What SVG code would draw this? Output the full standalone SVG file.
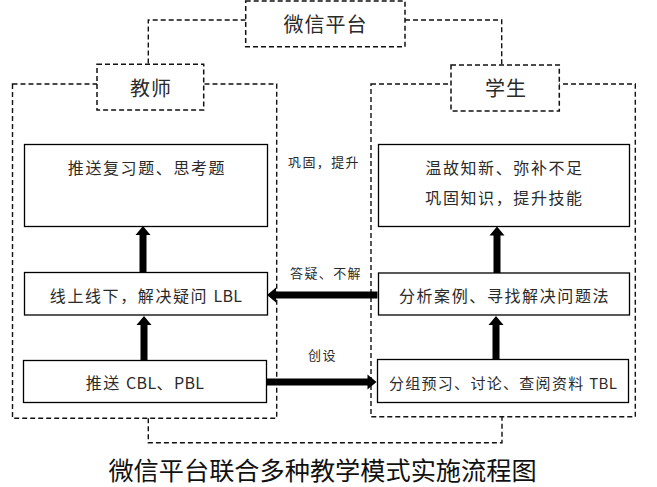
<svg xmlns="http://www.w3.org/2000/svg" width="657" height="487" viewBox="0 0 657 487">
<style>
.bg{fill:#fff}
.dash{fill:none;stroke:#111;stroke-width:1.4;stroke-dasharray:5,3}
.hdr{fill:#fff;stroke:#111;stroke-width:1.5;stroke-dasharray:5,3}
.box{fill:#fff;stroke:#000;stroke-width:1.3}
.arr{fill:#000;stroke:none}
text{font-family:"Noto Sans CJK SC","Liberation Sans",sans-serif;fill:#2a2a2a;text-anchor:middle}
.t{font-size:16px;letter-spacing:1.6px}
.lat{letter-spacing:0.3px}
.h{font-size:20px;letter-spacing:1px}
.lb{font-size:13px;letter-spacing:1.4px;text-anchor:start}
.title{font-size:25.2px;fill:#111}
</style>
<rect class="bg" x="0" y="0" width="657" height="487"/>
<g id="connectors">
<path class="dash" d="M245.7,20 H148.3 V64.3"/>
<path class="dash" d="M405,20 H501.7 V65"/>
<path class="dash" d="M148.3,418.3 V442.7 H502 V416.7"/>
</g>
<g id="teacher-group">
<rect class="dash" x="12.5" y="84" width="264.2" height="334.3"/>
</g>
<g id="student-group">
<rect class="dash" x="371" y="84" width="264.3" height="332.7"/>
</g>
<g id="platform">
<rect class="hdr" x="245.7" y="1" width="159.3" height="45.7"/>
<text class="h" x="325.5" y="32">微信平台</text>
</g>
<g id="teacher">
<rect class="hdr" x="97" y="64.3" width="106.7" height="45.7"/>
<text class="h" x="151" y="96">教师</text>
</g>
<g id="student">
<rect class="hdr" x="451" y="65" width="108.3" height="46"/>
<text class="h" x="506" y="96">学生</text>
</g>
<g id="t1">
<rect class="box" x="24.5" y="144.5" width="243" height="82"/>
<text class="t" x="147" y="174">推送复习题、思考题</text>
</g>
<g id="t2">
<rect class="box" x="24.5" y="272.5" width="243" height="42.5"/>
<text class="t" x="146" y="302">线上线下，解决疑问 <tspan class="lat">LBL</tspan></text>
</g>
<g id="t3">
<rect class="box" x="23.5" y="360.5" width="243" height="42"/>
<text class="t" x="145" y="389">推送 <tspan class="lat">CBL</tspan>、<tspan class="lat">PBL</tspan></text>
</g>
<g id="s1">
<rect class="box" x="378.5" y="144.5" width="251" height="82"/>
<text class="t" x="504.5" y="174">温故知新、弥补不足</text>
<text class="t" x="504.5" y="204">巩固知识，提升技能</text>
</g>
<g id="s2">
<rect class="box" x="378.5" y="273" width="251" height="42"/>
<text class="t" x="504.5" y="302">分析案例、寻找解决问题法</text>
</g>
<g id="s3">
<rect class="box" x="377.5" y="359.5" width="251" height="43"/>
<text class="t" x="503" y="389" style="font-size:15px;letter-spacing:1.3px">分组预习、讨论、查阅资料 <tspan class="lat">TBL</tspan></text>
</g>
<g id="arrows">
<polygon class="arr" points="143,226 150.5,235 146.5,235 146.5,272.5 139.5,272.5 139.5,235 135.5,235"/>
<polygon class="arr" points="144,316 151.5,325 147.5,325 147.5,360.5 140.5,360.5 140.5,325 136.5,325"/>
<polygon class="arr" points="497,226.5 504.5,235.5 500.5,235.5 500.5,273 493.5,273 493.5,235.5 489.5,235.5"/>
<polygon class="arr" points="496,316 503.5,325 499.5,325 499.5,359.5 492.5,359.5 492.5,325 488.5,325"/>
<polygon class="arr" points="267,295 276,287.5 276,291.5 377.5,291.5 377.5,298.5 276,298.5 276,302.5"/>
<polygon class="arr" points="376.5,382 367.5,374.5 367.5,378.5 266.5,378.5 266.5,385.5 367.5,385.5 367.5,389.5"/>
</g>
<g id="labels">
<text class="lb" x="288" y="167">巩固，提升</text>
<text class="lb" x="290" y="278">答疑、不解</text>
<text class="lb" x="308" y="360">创设</text>
</g>
<text class="title" x="322.5" y="480">微信平台联合多种教学模式实施流程图</text>
</svg>
